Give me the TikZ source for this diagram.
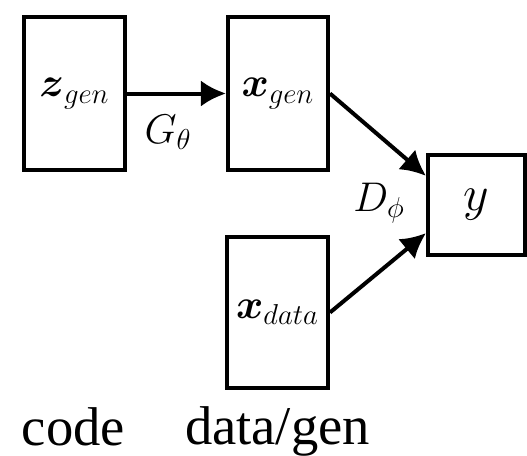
\documentclass[tikz,border=0pt]{standalone}
\usepackage{amsmath}
\usepackage{fontspec}
\setmainfont{Liberation Serif}
\usetikzlibrary{arrows.meta,calc}
\begin{document}
\begin{tikzpicture}[x=0.5pt,y=-0.5pt,
  box/.style={draw,line width=2pt,inner sep=0pt,font=\fontsize{20.74}{25}\selectfont},
  conn/.style={line width=2pt,-{Latex[length=12.5pt,width=13pt]}},
  lbl/.style={font=\fontsize{20.74}{25}\selectfont,inner sep=0pt},
  captext/.style={font=\fontsize{27.3}{32}\selectfont,inner sep=0pt,anchor=base}]
\useasboundingbox (0,0) rectangle (527,456);
\node[box,minimum width=50.5pt,minimum height=76.5pt] (z) at (74.5,93.5) {$\boldsymbol{z}_{gen}$};
\node[box,minimum width=50pt,minimum height=76.5pt] (xgen) at (278,93.5) {$\boldsymbol{x}_{gen}$};
\node[box,minimum width=50.5pt,minimum height=75.5pt] (xdata) at (277.5,312.5) {$\boldsymbol{x}_{data}$};
\node[box,minimum width=48.5pt,minimum height=50pt,font=\fontsize{24.88}{30}\selectfont] (y) at (476.5,205) {$y$};
\draw[conn] (z.east) -- (xgen.west);
\draw[conn] (xgen.east) -- ($(y.north west)!0.22!(y.south west)$);
\draw[conn] (xdata.east) -- ($(y.north west)!0.77!(y.south west)$);
\node[lbl] (g) at (168,132) {$G_\theta$};
\node[lbl] (d) at (379,203) {$D_\phi$};
\node[captext] (code) at (73.5,445) {code};
\node[captext] (dg) at (277.5,444) {data/gen};
\end{tikzpicture}
\end{document}
